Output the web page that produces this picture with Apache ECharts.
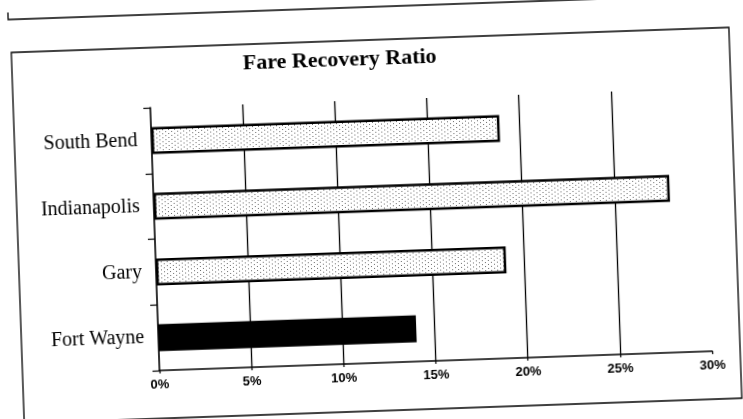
<!DOCTYPE html>
<html>
<head>
<meta charset="utf-8">
<script src="https://cdn.jsdelivr.net/npm/echarts@6/dist/echarts.min.js"></script>
<style>
  html, body { margin: 0; padding: 0; background: #fff; overflow: hidden; }
  /* the scan is tilted a little, so the whole chart is turned with it */
  #main { width: 743px; height: 419px; transform: rotate(-2deg); transform-origin: 50% 50%; }
</style>
</head>
<body>
<div id="main"></div>
<script>
// data
var cities = ['South Bend', 'Indianapolis', 'Gary', 'Fort Wayne'];
var ratios = [18.9, 28.0, 19.0, 14.0];
var axisMax = 30;
var axisStep = 5;

// dotted fill like the printed bars
function dotPattern() {
  var c = document.createElement('canvas');
  c.width = 6; c.height = 4;
  var ctx = c.getContext('2d');
  ctx.fillStyle = '#fff';
  ctx.fillRect(0, 0, 6, 4);
  ctx.fillStyle = '#6a6a6a';
  ctx.fillRect(0, 0, 1, 1);
  ctx.fillRect(3, 2, 1, 1);
  return c;
}
var dots = { image: dotPattern(), repeat: 'repeat' };

var chart = echarts.init(document.getElementById('main'));
chart.setOption({
  animation: false,
  backgroundColor: '#fff',
  title: {
    text: 'Fare Recovery Ratio',
    left: 248,
    top: 48,
    padding: 0,
    textStyle: { fontFamily: 'Liberation Serif', fontSize: 22, fontWeight: 'bold', color: '#000' }
  },
  grid: { left: 154, right: 36, top: 100, bottom: 56 },
  xAxis: {
    type: 'value',
    min: 0,
    max: axisMax,
    interval: axisStep,
    axisLine: { show: true, lineStyle: { color: '#000', width: 1.6 } },
    axisTick: { show: true, length: 3, lineStyle: { color: '#000', width: 1.2 } },
    axisLabel: {
      formatter: '{value}%',
      margin: 8,
      fontFamily: 'Liberation Sans',
      fontWeight: 'bold',
      fontSize: 13,
      color: '#000'
    },
    splitLine: {
      show: true,
      showMinLine: false,
      showMaxLine: false,
      lineStyle: { color: '#000', width: 1.3 }
    }
  },
  yAxis: {
    type: 'category',
    data: cities,
    inverse: true,
    axisLine: { show: true, lineStyle: { color: '#000', width: 1.6 } },
    axisTick: { show: true, length: 7, lineStyle: { color: '#000', width: 1.2 } },
    axisLabel: { margin: 14, fontFamily: 'Liberation Serif', fontSize: 20, color: '#000' }
  },
  series: [{
    type: 'bar',
    data: ratios,
    barWidth: 27,
    itemStyle: {
      color: function (p) { return p.name === 'Fort Wayne' ? '#000' : dots; },
      borderColor: '#000',
      borderWidth: 2.5
    }
  }],
  // page frames around the chart on the scanned sheet
  graphic: [
    { type: 'rect', silent: true, shape: { x: 17, y: 40, width: 718, height: 371 },
      style: { fill: null, stroke: '#000', lineWidth: 1.3 } },
    { type: 'rect', silent: true, shape: { x: 15, y: -60, width: 720, height: 67 },
      style: { fill: null, stroke: '#000', lineWidth: 1.3 } }
  ]
});
</script>
</body>
</html>
